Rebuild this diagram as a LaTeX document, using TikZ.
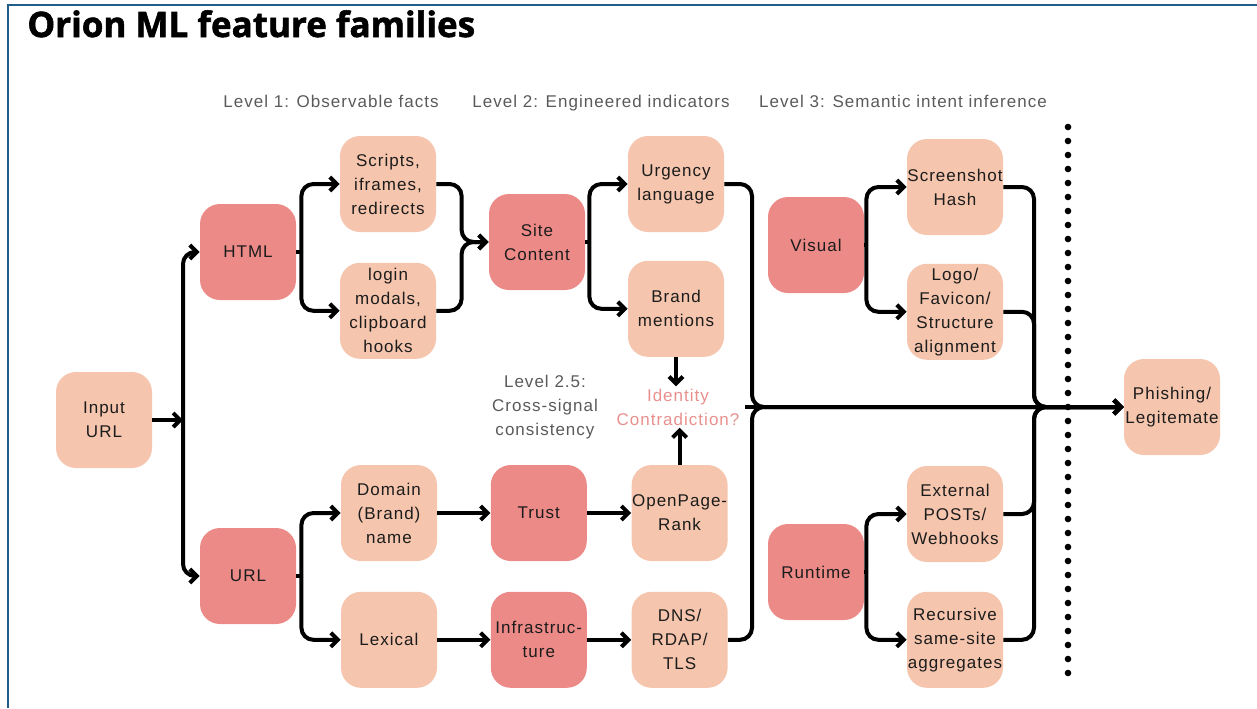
\documentclass[tikz,border=0pt]{standalone}
\usepackage{fontspec}
\setmainfont{Liberation Sans}[LetterSpace=6]
\newfontfamily\titlefont{Open Sans}[BoldFeatures={FakeBold=1.6}]
\usetikzlibrary{positioning,arrows.meta}

\definecolor{familia}{HTML}{EC8A88}
\definecolor{rasgo}{HTML}{F5C5AD}
\definecolor{marco}{HTML}{1F5E8A}
\definecolor{gris}{HTML}{5A5A5A}
\definecolor{rosa}{HTML}{E8908E}
\definecolor{tinta}{HTML}{1C1C1C}

\tikzstyle{FamilyBox}=[rectangle, rounded corners=10pt, fill=familia, minimum width=48pt, minimum height=48pt, inner sep=0pt, align=center, text=tinta, font=\fontsize{8.5}{12}\selectfont]
\tikzstyle{FeatureBox}=[rectangle, rounded corners=10pt, fill=rasgo, minimum width=48pt, minimum height=48pt, inner sep=0pt, align=center, text=tinta, font=\fontsize{8.5}{12}\selectfont]
\tikzstyle{LevelText}=[text=gris, font=\fontsize{8.5}{12}\selectfont]
\tikzstyle{NoteText}=[align=center, inner sep=1pt, font=\fontsize{8.5}{12}\selectfont]
\tikzstyle{Arrow}=[-{Straight Barb[length=3.5pt,width=7pt]}, line width=2pt, rounded corners=6pt]
\tikzstyle{Wire}=[line width=2pt, rounded corners=6pt]

\begin{document}
\begin{tikzpicture}[x=0.5pt, y=-0.5pt]
	\useasboundingbox (0,0) rectangle (1257,708);
	\draw[marco, line width=1pt] (8,708) -- (8,5) -- (1257,5);

	%Titulos
	\node[anchor=base west, inner sep=0pt, font=\titlefont\bfseries\fontsize{17.5}{20}\selectfont] (title) at (27,37) {Orion ML feature families};
	\node[LevelText, anchor=base] (lvlOne)   at (331,107) {Level 1: Observable facts};
	\node[LevelText, anchor=base] (lvlTwo)   at (601,107) {Level 2: Engineered indicators};
	\node[LevelText, anchor=base] (lvlThree) at (903,107) {Level 3: Semantic intent inference};
	\node[NoteText, text=gris] (lvlCross) at (545,407) {Level 2.5:\\Cross-signal\\consistency};

	%Nodos
	\node[FeatureBox]	(input)		at (104,420)	{Input\\URL};

	\node[FamilyBox]	(html)		at (248,252)	{HTML};
	\node[FamilyBox]	(url)		at (248,576)	{URL};

	\node[FeatureBox]	(scripts)	at (388,184)	{Scripts,\\iframes,\\redirects};
	\node[FeatureBox]	(login)		[below=15pt of scripts]	{login\\modals,\\clipboard\\hooks};
	\node[FeatureBox]	(domain)	at (389,513)	{Domain\\(Brand)\\name};
	\node[FeatureBox]	(lexical)	[below=15pt of domain]	{Lexical};

	\node[FamilyBox]	(site)		at (537,242)	{Site\\Content};
	\node[FamilyBox]	(trust)		[right=26.5pt of domain]	{Trust};
	\node[FamilyBox]	(infra)		[right=26.5pt of lexical]	{Infrastruc-\\ture};

	\node[FeatureBox]	(urgency)	at (676,184)	{Urgency\\language};
	\node[FeatureBox]	(brand)		[below=14pt of urgency]	{Brand\\mentions};
	\node[FeatureBox]	(opr)		[right=22pt of trust]	{OpenPage-\\Rank};
	\node[FeatureBox]	(dns)		[right=22pt of infra]	{DNS/\\RDAP/\\TLS};
	\node[NoteText, text=rosa]	(identity)	at (678,407)	{Identity\\Contradiction?};

	\node[FamilyBox]	(visual)	at (816,245)	{Visual};
	\node[FamilyBox]	(runtime)	at (816,572)	{Runtime};

	\node[FeatureBox]	(screenshot)	at (955,187)	{Screenshot\\Hash};
	\node[FeatureBox]	(logo)		[below=14pt of screenshot]	{Logo/\\Favicon/\\Structure\\alignment};
	\node[FeatureBox]	(external)	at (955,514)	{External\\POSTs/\\Webhooks};
	\node[FeatureBox]	(recursive)	[below=14.5pt of external]	{Recursive\\same-site\\aggregates};

	\node[FeatureBox]	(phish)		at (1172,407)	{Phishing/\\Legitemate};

	%Puntos de union
	\coordinate (splitIn)		at (183,420);
	\coordinate (splitHtml)		at ([xshift=2.5pt]html.east);
	\coordinate (splitUrl)		at ([xshift=2.5pt]url.east);
	\coordinate (mergeHtml)		at ([xshift=-13.5pt]site.west);
	\coordinate (splitSite)		at ([xshift=2pt]site.east);
	\coordinate (splitVisual)	at ([xshift=1pt]visual.east);
	\coordinate (splitRuntime)	at ([xshift=1pt]runtime.east);
	\coordinate (tipMid)		at (745,407);
	\coordinate (mergeMid)		at (752,407);
	\coordinate (mergeEnd)		at (1034,407);
	\coordinate (dotTop)		at (1068,127);
	\coordinate (dotBot)		at (1068,675);

	%Lineas
	\draw[Arrow] (input.east) -- (splitIn);
	\draw[Arrow] (splitIn) |- (html.west);
	\draw[Arrow] (splitIn) |- (url.west);

	\draw[Wire]  (html.east) -- (splitHtml);
	\draw[Arrow] (splitHtml) |- (scripts.west);
	\draw[Arrow] (splitHtml) |- (login.west);
	\draw[Wire]  (url.east) -- (splitUrl);
	\draw[Arrow] (splitUrl) |- (domain.west);
	\draw[Arrow] (splitUrl) |- (lexical.west);

	\draw[Arrow] (scripts.east) -| (mergeHtml) -- (site.west);
	\draw[Arrow] (login.east) -| (mergeHtml) -- (site.west);
	\draw[Arrow] (domain.east) -- (trust.west);
	\draw[Arrow] (lexical.east) -- (infra.west);

	\draw[Wire]  (site.east) -- (splitSite);
	\draw[Arrow] (splitSite) |- (urgency.west);
	\draw[Arrow] (splitSite) |- (brand.west);
	\draw[Arrow] (trust.east) -- (opr.west);
	\draw[Arrow] (infra.east) -- (dns.west);

	\draw[Arrow] (brand.south) -- (brand.south |- identity.north);
	\draw[Arrow] (opr.north) -- (opr.north |- identity.south);

	\draw[Wire]  (visual.east) -- (splitVisual);
	\draw[Arrow] (splitVisual) |- (screenshot.west);
	\draw[Arrow] (splitVisual) |- (logo.west);
	\draw[Wire]  (runtime.east) -- (splitRuntime);
	\draw[Arrow] (splitRuntime) |- (external.west);
	\draw[Arrow] (splitRuntime) |- (recursive.west);

	\draw[Arrow] (tipMid) -- (phish.west);
	\draw[Arrow] (urgency.east) -| (mergeMid) -- (phish.west);
	\draw[Arrow] (dns.east) -| (mergeMid) -- (phish.west);
	\draw[Arrow] (screenshot.east) -| (mergeEnd) -- (phish.west);
	\draw[Arrow] (logo.east) -| (mergeEnd) -- (phish.west);
	\draw[Arrow] (external.east) -| (mergeEnd) -- (phish.west);
	\draw[Arrow] (recursive.east) -| (mergeEnd) -- (phish.west);

	\draw[line width=3.3pt, line cap=round, dash pattern=on 0pt off 7pt] (dotTop) -- (dotBot);

\end{tikzpicture}
\end{document}
